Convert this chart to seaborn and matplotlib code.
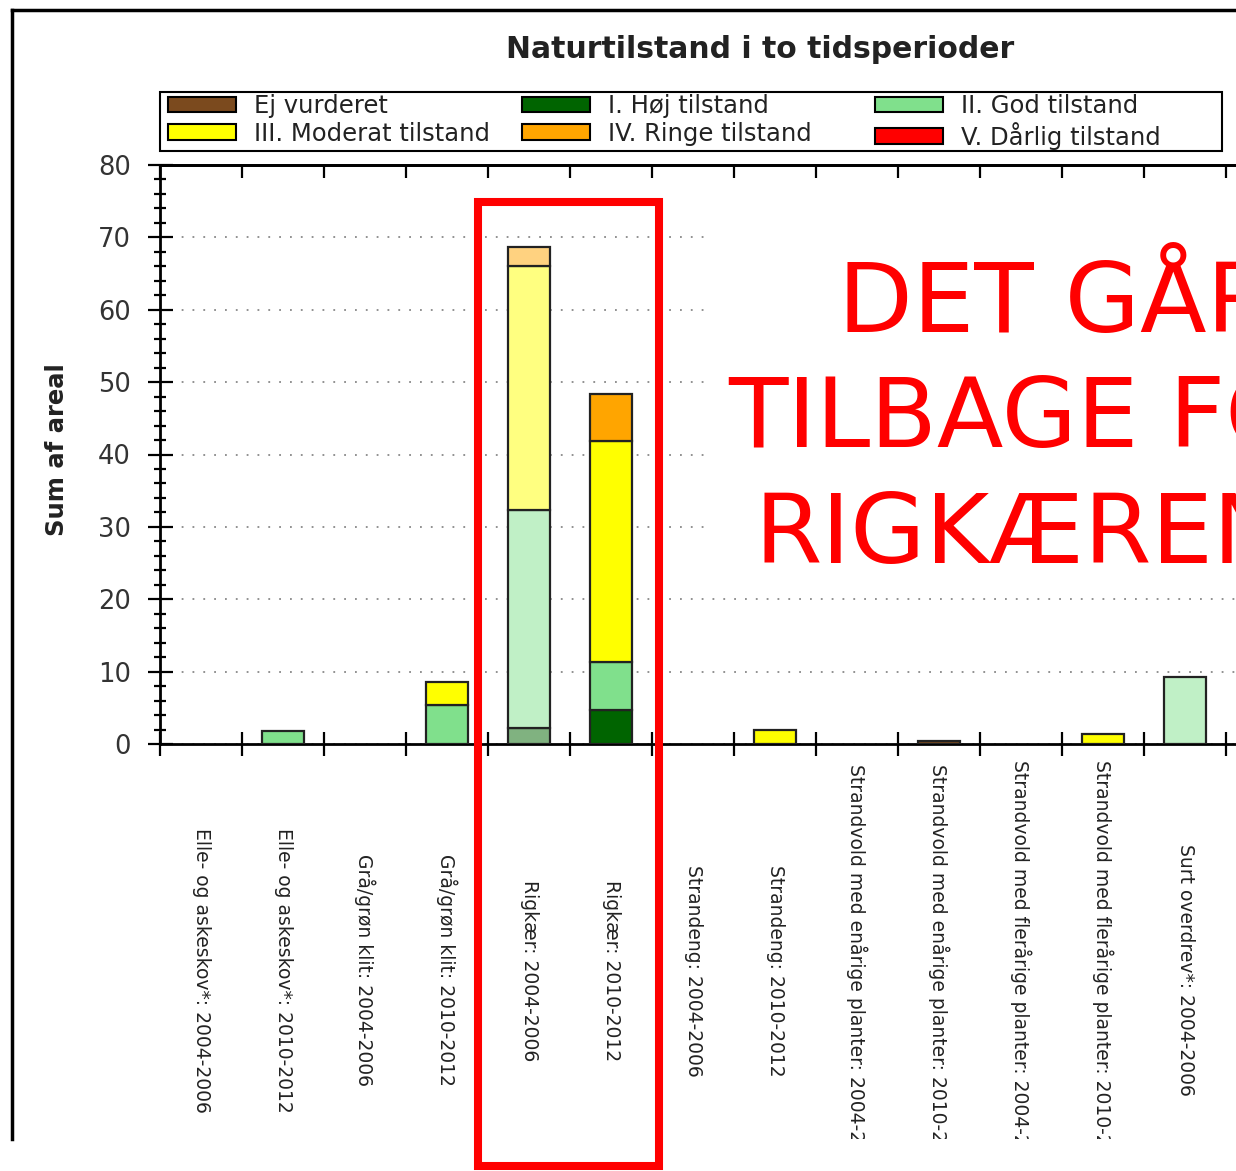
import numpy as np
import pandas as pd
import matplotlib
matplotlib.use("Agg")
import matplotlib.pyplot as plt
from matplotlib.patches import Patch, Rectangle
from matplotlib.lines import Line2D
from matplotlib.ticker import MultipleLocator
from matplotlib.colors import to_rgb
import seaborn as sns

# ---------------- data ----------------
categories = [
    "Elle- og askeskov*: 2004-2006",
    "Elle- og askeskov*: 2010-2012",
    "Grå/grøn klit: 2004-2006",
    "Grå/grøn klit: 2010-2012",
    "Rigkær: 2004-2006",
    "Rigkær: 2010-2012",
    "Strandeng: 2004-2006",
    "Strandeng: 2010-2012",
    "Strandvold med enårige planter: 2004-2006",
    "Strandvold med enårige planter: 2010-2012",
    "Strandvold med flerårige planter: 2004-2006",
    "Strandvold med flerårige planter: 2010-2012",
    "Surt overdrev*: 2004-2006",
]
classes = ["Ej vurderet", "I. Høj tilstand", "II. God tilstand",
           "III. Moderat tilstand", "IV. Ringe tilstand", "V. Dårlig tilstand"]

ej_vurderet = [0, 0, 0, 0, 0, 0, 0, 0, 0, 0.4, 0, 0, 0]
hoej        = [0, 0, 0, 0, 2.2, 4.7, 0, 0, 0, 0, 0, 0, 0]
god         = [0, 1.8, 0, 5.4, 30.1, 6.6, 0, 0, 0, 0, 0, 0, 9.3]
moderat     = [0, 0, 0, 3.2, 33.8, 30.6, 0, 1.9, 0, 0, 0, 1.4, 0]
ringe       = [0, 0, 0, 0, 2.6, 6.4, 0, 0, 0, 0, 0, 0, 0]
daarlig     = [0, 0, 0, 0, 0, 0, 0, 0, 0, 0, 0, 0, 0]

series = [ej_vurderet, hoej, god, moderat, ringe, daarlig]
class_colors = ["#7B4A1E", "#006400", "#80E08C", "#FFFF00", "#FFA500", "#FF0000"]

title = "Naturtilstand i to tidsperioder"
ylabel = "Sum af areal"
y_ticks = [0, 10, 20, 30, 40, 50, 60, 70, 80]
annotation_lines = ["DET GÅR", "TILBAGE FOR", "RIGKÆRENE"]

# ---------------- figure ----------------
W, H = 1236, 1171
plt.rcParams["font.family"] = ["DejaVu Sans"]
fig = plt.figure(figsize=(W / 100, H / 100), dpi=100, facecolor="white")

def fx(px):
    return px / W

def fy(py):
    return 1 - py / H

ax_left, ax_right, ax_top, ax_bottom = 160, 1308, 165, 744
ax = fig.add_axes([fx(ax_left), fy(ax_bottom), (ax_right - ax_left) / W, (ax_bottom - ax_top) / H])
ax.set_facecolor("white")

n = len(categories)
bottom = np.zeros(n)
for name, vals, col in zip(classes, series, class_colors):
    df = pd.DataFrame({"kategori": categories, "areal": vals})
    sns.barplot(data=df, x="kategori", y="areal", order=categories, color=col,
                saturation=1, bottom=bottom.copy(), width=0.52, errorbar=None,
                edgecolor="#222222", linewidth=1.6, ax=ax, zorder=3)
    bottom += np.array(vals, dtype=float)

# style: hide empty segments, lighten 2004-2006 period bars
for p in ax.patches:
    if p.get_height() <= 0:
        p.set_visible(False)
        continue
    idx = int(round(p.get_x() + p.get_width() / 2))
    if "2004" in categories[idx]:
        r, g, b = to_rgb(p.get_facecolor())
        p.set_facecolor((0.5 * r + 0.5, 0.5 * g + 0.5, 0.5 * b + 0.5))

ax.set_xlim(-0.5, n + 0.5)
ax.set_ylim(0, 80)
ax.set_xlabel("")

# x ticks at category boundaries, labels at centers
ax.set_xticks(np.arange(-0.5, n + 1.0, 1.0))
ax.set_xticklabels([])
ax.set_xticks(np.arange(n), minor=True)
ax.set_xticklabels(categories, minor=True, rotation=-90, fontsize=13.5,
                   ha="center", va="center", color="#222222")
ax.tick_params(axis="x", which="major", direction="inout", length=17, width=1.6, color="black")
ax.tick_params(axis="x", which="minor", length=0, pad=163)

# y ticks
ax.set_yticks(y_ticks)
ax.yaxis.set_minor_locator(MultipleLocator(2))
ax.tick_params(axis="y", which="major", direction="inout", length=18, width=1.6,
               pad=12, labelsize=18.5, labelcolor="#333333")
ax.tick_params(axis="y", which="minor", direction="inout", length=9, width=1.6)
ax.yaxis.grid(True, which="major", linestyle=(0, (1, 5)), color="#888888", linewidth=1.3, zorder=0)
ax.set_axisbelow(True)

for s in ["left", "bottom", "top"]:
    ax.spines[s].set_linewidth(2)
    ax.spines[s].set_color("black")

sec = ax.secondary_xaxis("top")
sec.set_xticks(np.arange(-0.5, n + 1.0, 1.0))
sec.set_xticklabels([])
sec.tick_params(direction="in", length=9, width=1.6)
sec.spines["top"].set_linewidth(2)

ax.set_ylabel(ylabel, fontsize=17.5, fontweight="bold", color="#222222")
ax.yaxis.set_label_coords(-0.079, 0.508)

# title
fig.text(fx(760), fy(50), title, ha="center", va="center", fontsize=21.5,
         fontweight="bold", color="#222222")

# legend: three fixed-width columns inside one frame
handles = [Patch(facecolor=c, edgecolor="black", linewidth=1.5) for c in class_colors]
col_items = [[0, 3], [1, 4], [2, 5]]
col_x = [168, 522, 875]
for items, x in zip(col_items, col_x):
    fig.legend([handles[i] for i in items], [classes[i] for i in items],
               loc="upper left", bbox_to_anchor=(fx(x), fy(94)), borderaxespad=0,
               borderpad=0, frameon=False, fontsize=17.5, handlelength=2.8,
               handleheight=0.62, handletextpad=0.74, labelspacing=0.16,
               labelcolor="#222222")
fig.patches.append(Rectangle((fx(160), fy(151)), fx(1222) - fx(160), (151 - 92) / H,
                             transform=fig.transFigure, fill=False, edgecolor="black",
                             linewidth=1.5, zorder=2))

# white strip at bottom (picture cut), white box behind annotation text
fig.patches.append(Rectangle((0, 0), 1, fy(1139), transform=fig.transFigure,
                             facecolor="white", edgecolor="none", zorder=1))
fig.patches.append(Rectangle((fx(705), fy(585)), 1 - fx(705), (585 - 225) / H,
                             transform=fig.transFigure, facecolor="white",
                             edgecolor="none", zorder=1))

# outer frame
fig.lines.append(Line2D([fx(12), fx(12)], [fy(1139), fy(10)], transform=fig.transFigure,
                        color="black", linewidth=2.5, zorder=5))
fig.lines.append(Line2D([fx(12), 1.0], [fy(10), fy(10)], transform=fig.transFigure,
                        color="black", linewidth=2.5, zorder=5))

# red highlight box
fig.patches.append(Rectangle((fx(478), fy(1166)), fx(659) - fx(478), (1166 - 202) / H,
                             transform=fig.transFigure, fill=False, edgecolor="#FF0000",
                             linewidth=5.8, zorder=6))

# red annotation text
for txt, x, y in zip(annotation_lines, [838, 728, 754], [332, 447, 563]):
    fig.text(fx(x), fy(y), txt, ha="left", va="baseline", fontsize=70,
             family=["DejaVu Sans"], color="#FF0000", zorder=7)

fig.savefig("out.png", dpi=100, facecolor="white")
